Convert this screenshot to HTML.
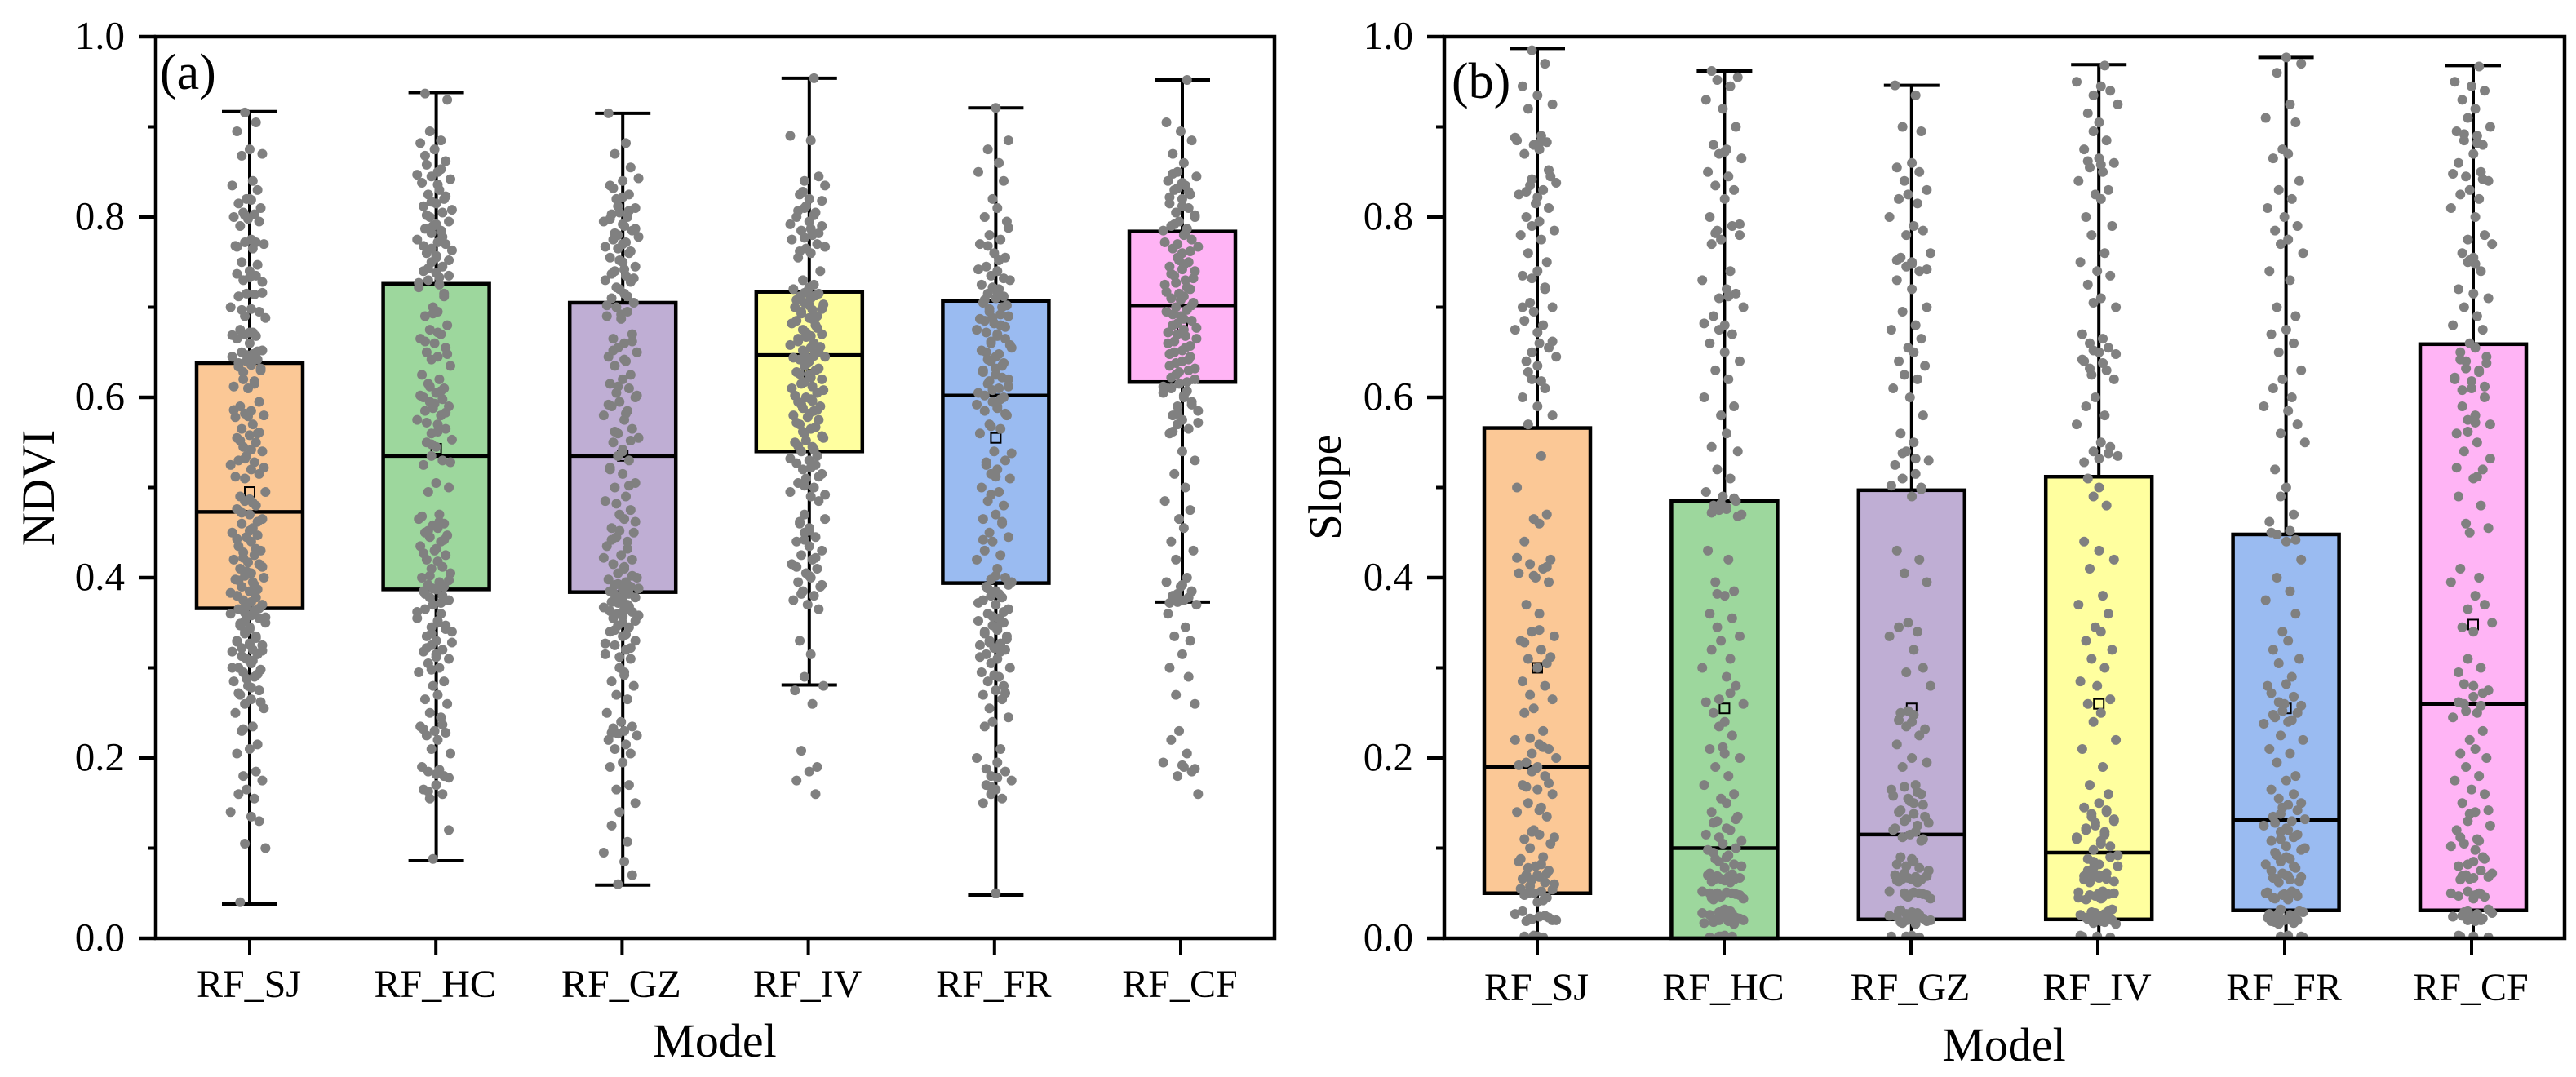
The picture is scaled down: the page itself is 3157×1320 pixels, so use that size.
<!DOCTYPE html>
<html lang="en">
<head>
<meta charset="utf-8">
<title>NDVI and Slope box plots by model</title>
<style>
html,body{margin:0;padding:0;background:#fff}
svg{display:block;position:absolute;left:0;top:0}
text{font-family:"Liberation Serif",serif;fill:#000}
</style>
</head>
<body>
<svg id="figure" xmlns="http://www.w3.org/2000/svg" width="3157" height="1320" viewBox="0 0 3157 1320">
  <defs>
    <clipPath id="clip-b"><rect x="1770" y="45" width="1373" height="1105"/></clipPath>
  </defs>
  <rect x="0" y="0" width="3157" height="1320" fill="#fff"/>
  <g id="panel-a"></g>
  <g id="panel-b"></g>
  <text x="66" y="598" font-size="57" text-anchor="middle" transform="rotate(-90 66 598)">NDVI</text>
  <text x="1643" y="597" font-size="57" text-anchor="middle" transform="rotate(-90 1643 597)">Slope</text>
  <text x="876" y="1295" font-size="58" text-anchor="middle">Model</text>
  <text x="2456" y="1300" font-size="58" text-anchor="middle">Model</text>
  <text x="196" y="109" font-size="62">(a)</text>
  <text x="1779" y="120" font-size="62">(b)</text>
</svg>
<script>
const categories = ['RF_SJ','RF_HC','RF_GZ','RF_IV','RF_FR','RF_CF'];
const yTickLabels = ['0.0','0.2','0.4','0.6','0.8','1.0'];
const yTickValues = [0,0.2,0.4,0.6,0.8,1.0];
const yMinorValues = [0.1,0.3,0.5,0.7,0.9];
const boxColors = ['#FBC896','#9DD79D','#BFAED4','#FFFF9F','#9ABBF1','#FFB4F5'];

const ndviLow = [0.038,0.086,0.059,0.281,0.048,0.373];
const ndviQ1 = [0.366,0.387,0.384,0.540,0.394,0.617];
const ndviMedian = [0.473,0.535,0.535,0.647,0.602,0.702];
const ndviQ3 = [0.638,0.726,0.705,0.717,0.707,0.784];
const ndviHigh = [0.917,0.938,0.915,0.954,0.921,0.952];
const ndviMean = [0.495,0.543,0.535,0.625,0.555,0.680];

const slopeLow = [0,0,0,0,0,0];
const slopeQ1 = [0.05,0,0.021,0.021,0.031,0.031];
const slopeMedian = [0.19,0.10,0.115,0.095,0.131,0.26];
const slopeQ3 = [0.566,0.485,0.497,0.512,0.448,0.659];
const slopeHigh = [0.987,0.962,0.946,0.969,0.977,0.968];
const slopeMean = [0.30,0.255,0.255,0.26,0.255,0.348];

const jitter = [-.02,.05,-.07,.01,.09,-.04,.03,-.1,.06,-.01,.02,-.06,.08,-.03,.04,-.09,0,.07,-.05,.02,-.02,.1,-.08,.03,-.04,.06,.01,-.07,.05,-.03,.09,-.01,-.06,.04,-.11,.02,.07,-.02,.11,-.05,.01];

const ndviSJ = [.916,.905,.895,.875,.87,.868,.84,.835,.83,.82,.819,.815,.81,.805,.803,.80,.798,.795,.79,.775,.772,.77,.768,.765,.75,.747,.74,.737,.735,.73,.728,.715,.712,.714,.70,.698,.695,.69,.688,.675,.672,.67,.668,.665,.66,.652,.65,.648,.645,.642,.64,.636,.634,.63,.62,.615,.612,.61,.595,.59,.585,.582,.58,.578,.57,.565,.56,.558,.555,.55,.545,.54,.535,.53,.528,.525,.52,.515,.51,.495,.49,.487,.485,.48,.476,.47,.465,.46,.455,.45,.447,.445,.44,.435,.43,.428,.425,.42,.417,.415,.41,.405,.402,.40,.398,.395,.39,.387,.385,.38,.378,.375,.37,.368,.365,.363,.36,.358,.355,.352,.35,.347,.345,.34,.335,.33,.327,.325,.322,.32,.318,.315,.31,.305,.30,.298,.295,.29,.285,.28,.275,.27,.265,.26,.255,.25,.235,.23,.215,.21,.205,.185,.18,.175,.165,.16,.155,.14,.135,.13,.105,.10,.04];
const ndviSJMore = [.82,.802,.772,.767,.733,.716,.697,.672,.669,.651,.647,.643,.638,.632,.628,.618,.586,.579,.561,.552,.542,.532,.522,.512,.483,.472,.462,.452,.443,.432,.422,.412,.407,.397,.392,.383,.373,.366,.361,.356,.349,.343,.338,.333,.329,.326,.319,.313,.308,.3,.293,.288,.278,.272,.262,.232];
const ndviHC = [.937,.93,.895,.885,.882,.875,.862,.858,.85,.845,.842,.838,.83,.825,.82,.815,.812,.805,.80,.795,.79,.787,.785,.775,.772,.77,.765,.763,.76,.755,.75,.745,.74,.738,.735,.73,.725,.722,.715,.70,.695,.69,.68,.675,.67,.665,.66,.655,.65,.645,.642,.635,.625,.62,.615,.61,.605,.60,.598,.595,.59,.588,.585,.58,.575,.57,.565,.56,.553,.55,.545,.535,.53,.525,.505,.50,.495,.47,.465,.46,.458,.455,.45,.447,.445,.44,.435,.43,.425,.42,.418,.41,.405,.40,.395,.392,.39,.387,.385,.38,.378,.375,.37,.365,.36,.355,.35,.347,.345,.34,.335,.33,.325,.32,.318,.315,.31,.305,.30,.295,.285,.28,.27,.265,.26,.25,.245,.235,.23,.228,.225,.22,.21,.205,.19,.187,.185,.18,.17,.165,.16,.155,.12,.088];
const ndviHCMore = [.868,.853,.847,.836,.823,.817,.808,.802,.792,.782,.778,.768,.757,.752,.743,.733,.727,.712,.693,.672,.662,.648,.612,.607,.602,.593,.583,.572,.562,.548,.528,.468,.462,.452,.442,.432,.427,.412,.402,.397,.388,.382,.372,.362,.352,.343,.338,.328,.322,.312,.298,.237,.232,.182,.178,.163];
const ndviGZ = [.915,.882,.87,.855,.84,.835,.825,.82,.81,.805,.803,.80,.795,.79,.785,.78,.778,.775,.77,.765,.76,.755,.75,.745,.74,.735,.73,.728,.72,.715,.71,.705,.70,.695,.69,.687,.67,.665,.66,.655,.65,.645,.64,.635,.625,.62,.615,.61,.605,.60,.595,.59,.585,.58,.575,.565,.56,.555,.55,.54,.535,.53,.52,.515,.505,.50,.49,.485,.475,.47,.465,.455,.45,.445,.44,.435,.425,.42,.415,.41,.405,.40,.398,.395,.392,.39,.387,.385,.382,.38,.378,.376,.373,.37,.367,.365,.362,.36,.358,.355,.35,.347,.345,.34,.335,.33,.325,.32,.315,.31,.30,.295,.285,.28,.27,.265,.25,.24,.235,.233,.23,.227,.225,.22,.215,.21,.205,.195,.19,.17,.165,.15,.14,.125,.107,.095,.085,.07,.06];
const ndviGZMore = [.843,.832,.822,.812,.807,.798,.792,.787,.782,.772,.767,.762,.752,.742,.737,.732,.722,.712,.702,.692,.662,.652,.642,.612,.602,.592,.582,.562,.552,.542,.522,.502,.482,.462,.452,.442,.432,.422,.412,.402,.393,.388,.383,.377,.372,.368,.363,.357,.352,.342,.337,.327,.322,.312,.292,.228];
const ndviIV = [.954,.89,.885,.845,.84,.835,.825,.82,.81,.805,.80,.795,.79,.785,.78,.775,.77,.765,.76,.755,.74,.73,.725,.72,.718,.715,.712,.71,.705,.703,.70,.697,.695,.69,.688,.685,.68,.675,.67,.667,.665,.66,.658,.655,.65,.648,.645,.642,.64,.635,.63,.628,.625,.62,.615,.612,.61,.605,.60,.598,.595,.59,.588,.585,.58,.578,.575,.57,.565,.56,.555,.55,.545,.54,.535,.53,.527,.525,.52,.515,.51,.505,.50,.495,.49,.485,.47,.465,.46,.455,.45,.445,.44,.435,.43,.425,.42,.415,.41,.405,.40,.395,.39,.385,.38,.375,.37,.365,.33,.315,.29,.28,.275,.26,.208,.19,.185,.175,.16];
const ndviIVMore = [.828,.818,.812,.807,.802,.792,.787,.782,.777,.767,.762,.722,.716,.713,.708,.702,.698,.693,.687,.682,.677,.672,.668,.662,.656,.652,.646,.644,.638,.632,.626,.622,.617,.608,.602,.596,.592,.586,.582,.572,.567,.562,.557,.552,.546,.542,.532,.522,.512,.502,.492,.462,.452,.442,.422,.412,.402,.392,.382];
const ndviFR = [.921,.885,.875,.86,.85,.84,.82,.81,.80,.795,.78,.775,.77,.76,.755,.745,.74,.735,.73,.725,.72,.715,.712,.71,.705,.70,.695,.69,.688,.685,.68,.675,.67,.665,.66,.655,.65,.645,.64,.635,.63,.625,.62,.615,.61,.605,.60,.595,.59,.585,.58,.57,.565,.56,.54,.53,.525,.52,.515,.51,.50,.495,.485,.48,.47,.465,.46,.45,.445,.44,.43,.425,.42,.41,.40,.398,.395,.39,.385,.38,.378,.375,.37,.365,.36,.355,.352,.35,.347,.345,.34,.335,.33,.327,.325,.322,.32,.315,.31,.305,.30,.295,.29,.285,.28,.275,.27,.265,.255,.245,.24,.235,.21,.20,.195,.185,.18,.175,.17,.165,.16,.155,.15,.05];
const ndviFRMore = [.788,.768,.752,.742,.732,.722,.717,.708,.702,.698,.692,.687,.682,.678,.672,.668,.662,.658,.652,.648,.642,.638,.632,.628,.622,.618,.612,.608,.602,.598,.592,.588,.582,.568,.538,.528,.512,.492,.462,.442,.402,.392,.388,.382,.372,.362,.357,.342,.338,.332,.328,.318,.312,.292,.272,.188,.178,.168];
const ndviCF = [.952,.905,.895,.885,.87,.86,.85,.845,.84,.835,.83,.825,.82,.815,.81,.805,.80,.795,.79,.787,.785,.78,.775,.77,.767,.765,.76,.755,.75,.745,.742,.74,.735,.73,.725,.72,.715,.712,.71,.705,.70,.697,.695,.69,.685,.68,.675,.67,.665,.66,.655,.65,.645,.64,.635,.63,.625,.62,.615,.61,.607,.605,.60,.595,.59,.585,.58,.575,.57,.565,.56,.54,.53,.515,.50,.485,.475,.465,.455,.44,.43,.42,.40,.395,.39,.385,.38,.375,.373,.37,.36,.345,.335,.33,.315,.30,.29,.27,.26,.23,.22,.205,.195,.19,.185,.18,.16];
const ndviCFMore = [.848,.838,.832,.828,.822,.812,.802,.792,.782,.772,.762,.752,.747,.737,.732,.727,.722,.717,.708,.702,.692,.687,.682,.677,.672,.668,.662,.657,.652,.648,.642,.638,.632,.628,.622,.617,.612,.602,.592,.582,.572,.562,.392,.382,.378,.372,.192,.188];

const slopeSJ = [.985,.97,.945,.935,.925,.92,.89,.885,.883,.88,.875,.87,.845,.835,.83,.825,.815,.81,.80,.795,.79,.785,.78,.775,.76,.75,.74,.735,.72,.705,.70,.695,.685,.68,.675,.66,.655,.65,.645,.64,.635,.62,.61,.60,.59,.58,.57,.535,.50,.47,.465,.46,.44,.42,.415,.41,.405,.40,.395,.37,.36,.34,.335,.33,.32,.31,.305,.30,.285,.28,.27,.265,.255,.25,.23,.22,.215,.21,.205,.20,.195,.19,.185,.18,.17,.165,.16,.15,.145,.14,.135,.12,.115,.11,.105,.10,.09,.085,.08,.075,.07,.068,.065,.06,.055,.052,.05,.045,.04,.03,.025,.022,.02,.003,.002,.001];
const slopeSJMore = [.888,.882,.852,.842,.838,.828,.822,.732,.722,.7,.672,.662,.628,.618,.422,.412,.402,.342,.328,.312,.222,.212,.192,.188,.172,.168,.142,.118,.112,.088,.082,.078,.072,.07,.066,.062,.058,.054,.05,.048,.042,.027,.024,.023,.021,.02,.019,.002];
const slopeHC = [.962,.955,.952,.945,.93,.92,.90,.88,.875,.87,.865,.85,.845,.835,.83,.82,.80,.79,.785,.78,.775,.77,.74,.73,.72,.715,.71,.70,.69,.68,.675,.67,.66,.65,.64,.63,.62,.60,.59,.58,.56,.545,.54,.52,.51,.495,.49,.485,.48,.478,.475,.47,.43,.42,.395,.385,.38,.36,.355,.345,.335,.33,.32,.31,.30,.29,.28,.265,.26,.25,.24,.235,.225,.21,.205,.20,.19,.18,.17,.16,.155,.15,.14,.135,.13,.12,.115,.105,.10,.095,.09,.085,.08,.07,.068,.066,.065,.064,.05,.05,.05,.048,.046,.045,.03,.028,.025,.023,.02,.02,.018,.003,.002,.002,.001];
const slopeHCMore = [.872,.792,.782,.712,.682,.488,.482,.476,.472,.468,.382,.272,.262,.212,.132,.128,.122,.112,.108,.098,.092,.088,.082,.078,.072,.071,.069,.067,.066,.063,.062,.052,.051,.049,.047,.044,.043,.032,.029,.027,.026,.024,.022,.021,.019,.017,.016,.002];
const slopeGZ = [.946,.935,.90,.895,.86,.855,.85,.84,.83,.825,.82,.815,.80,.79,.785,.78,.76,.755,.75,.745,.74,.73,.72,.70,.695,.68,.675,.665,.655,.65,.64,.635,.625,.62,.61,.60,.58,.56,.55,.54,.53,.525,.515,.51,.50,.49,.43,.42,.405,.395,.35,.345,.34,.335,.32,.30,.295,.28,.25,.24,.235,.225,.215,.20,.195,.19,.17,.165,.16,.155,.15,.14,.135,.13,.125,.12,.115,.11,.09,.085,.08,.075,.07,.068,.066,.065,.065,.064,.05,.05,.048,.046,.03,.028,.025,.023,.022,.02,.02,.018,.003,.002,.001];
const slopeGZMore = [.752,.748,.742,.538,.532,.502,.498,.252,.248,.242,.232,.168,.162,.158,.152,.148,.142,.138,.132,.128,.122,.118,.112,.108,.088,.082,.078,.072,.069,.067,.063,.062,.052,.051,.049,.047,.044,.031,.029,.027,.026,.024,.021,.019,.017,.016,.002];
const slopeIV = [.968,.95,.945,.94,.935,.925,.915,.905,.895,.885,.875,.865,.86,.855,.85,.84,.83,.825,.82,.80,.79,.78,.76,.75,.74,.735,.725,.71,.705,.70,.67,.665,.66,.655,.65,.64,.63,.625,.62,.60,.59,.58,.57,.55,.545,.54,.535,.51,.50,.49,.48,.44,.43,.42,.41,.38,.37,.36,.345,.34,.33,.32,.31,.30,.285,.28,.265,.26,.25,.24,.22,.21,.19,.17,.16,.15,.145,.14,.135,.13,.125,.12,.115,.11,.105,.09,.085,.08,.075,.07,.068,.066,.065,.05,.05,.048,.046,.045,.03,.028,.025,.023,.02,.02,.018,.003,.002,.001];
const slopeIVMore = [.862,.858,.652,.648,.642,.638,.632,.538,.532,.528,.142,.138,.132,.128,.122,.118,.112,.108,.102,.098,.092,.088,.082,.078,.072,.069,.067,.063,.062,.052,.051,.049,.047,.044,.043,.032,.029,.027,.026,.024,.022,.021,.019,.017,.016,.002];
const slopeFR = [.977,.97,.96,.925,.91,.905,.875,.87,.865,.84,.83,.82,.81,.80,.79,.785,.775,.77,.76,.74,.73,.70,.69,.675,.67,.66,.65,.63,.62,.61,.60,.59,.585,.57,.56,.55,.52,.50,.49,.47,.45,.44,.42,.40,.385,.375,.36,.34,.33,.32,.31,.305,.29,.28,.26,.25,.245,.24,.225,.22,.21,.205,.195,.18,.175,.165,.16,.155,.15,.145,.135,.13,.125,.12,.115,.11,.10,.095,.09,.085,.08,.075,.07,.068,.066,.065,.05,.05,.048,.046,.045,.03,.028,.025,.023,.02,.02,.018,.003,.002,.001];
const slopeFRMore = [.462,.452,.448,.442,.282,.272,.268,.262,.258,.252,.248,.242,.238,.148,.142,.138,.132,.128,.122,.118,.112,.108,.102,.098,.092,.088,.082,.078,.072,.069,.067,.063,.062,.052,.051,.049,.047,.044,.043,.032,.029,.027,.026,.024,.022,.021,.019,.017,.016,.002];
const slopeCF = [.967,.95,.945,.94,.93,.92,.91,.90,.895,.89,.885,.88,.87,.86,.85,.845,.84,.83,.825,.82,.81,.80,.78,.775,.77,.76,.755,.75,.74,.72,.715,.71,.70,.69,.68,.675,.66,.655,.65,.645,.64,.63,.62,.61,.60,.59,.58,.575,.57,.56,.55,.54,.52,.51,.49,.48,.46,.455,.45,.41,.40,.395,.38,.37,.365,.35,.345,.34,.31,.30,.295,.28,.275,.26,.25,.245,.23,.22,.21,.205,.20,.19,.18,.175,.165,.16,.15,.14,.13,.125,.12,.11,.105,.09,.085,.08,.075,.07,.068,.066,.065,.05,.05,.048,.046,.03,.028,.025,.023,.02,.02,.003,.002,.001];
const slopeCFMore = [.892,.882,.848,.842,.752,.748,.642,.638,.632,.628,.622,.618,.612,.608,.572,.562,.532,.522,.512,.282,.272,.268,.262,.258,.252,.142,.138,.112,.108,.102,.098,.088,.082,.072,.069,.067,.052,.049,.047,.044,.032,.029,.027,.024,.022,.021,.019,.002];

const ndviPoints = [ndviSJ.concat(ndviSJMore),ndviHC.concat(ndviHCMore),ndviGZ.concat(ndviGZMore),ndviIV.concat(ndviIVMore),ndviFR.concat(ndviFRMore),ndviCF.concat(ndviCFMore)];
const slopePoints = [slopeSJ.concat(slopeSJMore),slopeHC.concat(slopeHCMore),slopeGZ.concat(slopeGZMore),slopeIV.concat(slopeIVMore),slopeFR.concat(slopeFRMore),slopeCF.concat(slopeCFMore)];

const SVGNS = 'http://www.w3.org/2000/svg';

function makeEl(tag, attrs, parent) {
  const el = document.createElementNS(SVGNS, tag);
  for (const k in attrs) el.setAttribute(k, attrs[k]);
  parent.appendChild(el);
  return el;
}

function drawPanel(cfg) {
  const root = document.getElementById(cfg.id);
  const top = 45, bottom = 1150;
  const yScale = v => bottom - v * (bottom - top);
  const xScale = i => cfg.x0 + cfg.step * i;
  const boxW = 130, capW = 68;

  categories.forEach((cat, i) => {
    const cx = xScale(i) + cfg.shift * i;
    const g = makeEl('g', {}, root);
    
    

    const whisker = makeEl('line', {x1: cx, x2: cx, y1: yScale(cfg.low[i]), y2: yScale(cfg.high[i]), stroke: '#000', 'stroke-width': 4}, g);
    
    

    const capHigh = makeEl('line', {x1: cx - capW / 2, x2: cx + capW / 2, y1: yScale(cfg.high[i]), y2: yScale(cfg.high[i]), stroke: '#000', 'stroke-width': 4}, g);
    
    

    const capLow = makeEl('line', {x1: cx - capW / 2, x2: cx + capW / 2, y1: yScale(cfg.low[i]), y2: yScale(cfg.low[i]), stroke: '#000', 'stroke-width': 4}, g);
    
    

    const box = makeEl('rect', {x: cx - boxW / 2, y: yScale(cfg.q3[i]), width: boxW, height: yScale(cfg.q1[i]) - yScale(cfg.q3[i]), fill: boxColors[i], stroke: '#000', 'stroke-width': 4.5}, g);
    
    

    const median = makeEl('line', {x1: cx - boxW / 2, x2: cx + boxW / 2, y1: yScale(cfg.median[i]), y2: yScale(cfg.median[i]), stroke: '#000', 'stroke-width': 4.5}, g);
    
    

    const mean = makeEl('rect', {x: cx - 6, y: yScale(cfg.mean[i]) - 6, width: 12, height: 12, fill: 'none', stroke: '#000', 'stroke-width': 2}, g);
    
    

    const pts = makeEl('g', {fill: '#808080'}, g);
    if (cfg.clip) pts.setAttribute('clip-path', 'url(#' + cfg.clip + ')');
    
    
    cfg.points[i].forEach((v, k) => {
      const off = jitter[(k + i * 11) % jitter.length] * cfg.step * cfg.spread;
      const dot = makeEl('circle', {cx: cx + off - 2, cy: yScale(v), r: 6}, pts);
      
      
    });
  });

  const frame = makeEl('rect', {x: cfg.left, y: top, width: cfg.right - cfg.left, height: bottom - top, fill: 'none', stroke: '#000', 'stroke-width': 4.5}, root);
  
  

  yTickValues.forEach((v, i) => {
    const tick = makeEl('line', {x1: cfg.left - 21, x2: cfg.left, y1: yScale(v), y2: yScale(v), stroke: '#000', 'stroke-width': 4.5}, root);
    
    
    const label = makeEl('text', {x: cfg.left - 38, y: yScale(v) + 15, 'font-size': 49, 'text-anchor': 'end'}, root);
    label.textContent = yTickLabels[i];
    
    
  });

  yMinorValues.forEach(v => {
    const tick = makeEl('line', {x1: cfg.left - 10, x2: cfg.left, y1: yScale(v), y2: yScale(v), stroke: '#000', 'stroke-width': 4}, root);
    
    
  });

  categories.forEach((cat, i) => {
    const x = xScale(i);
    const tick = makeEl('line', {x1: x, x2: x, y1: bottom, y2: bottom + 21, stroke: '#000', 'stroke-width': 4}, root);
    
    
    const label = makeEl('text', {x: x - 1, y: cfg.xLabelY, 'font-size': 48, 'text-anchor': 'middle'}, root);
    label.textContent = cat;
    
    
  });
}

drawPanel({id: 'panel-a', left: 191, right: 1562, x0: 306, step: 228.2, shift: 0.4, spread: 0.85, xLabelY: 1222,
  low: ndviLow, q1: ndviQ1, median: ndviMedian, q3: ndviQ3, high: ndviHigh, mean: ndviMean, points: ndviPoints});
drawPanel({id: 'panel-b', left: 1770, right: 3143, x0: 1884, step: 229, shift: 0.4, spread: 1, xLabelY: 1226, clip: 'clip-b',
  low: slopeLow, q1: slopeQ1, median: slopeMedian, q3: slopeQ3, high: slopeHigh, mean: slopeMean, points: slopePoints});
</script>
</body>
</html>
